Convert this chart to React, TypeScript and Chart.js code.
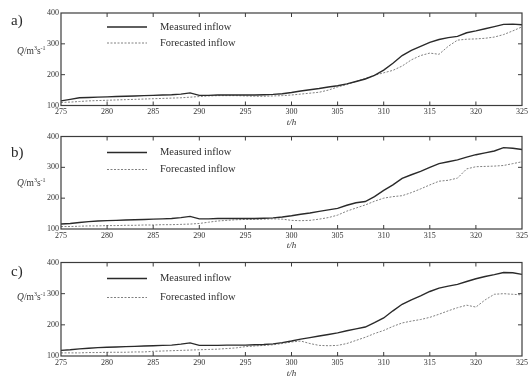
import React, { useEffect, useRef } from "react";
import { Chart, registerables } from "chart.js";

Chart.register(...registerables);

// ---- data ----
const hours = [
  275, 276, 277, 278, 279, 280, 281, 282, 283, 284,
  285, 286, 287, 288, 289, 290, 291, 292, 293, 294,
  295, 296, 297, 298, 299, 300, 301, 302, 303, 304,
  305, 306, 307, 308, 309, 310, 311, 312, 313, 314,
  315, 316, 317, 318, 319, 320, 321, 322, 323, 324,
  325,
];
const xTickValues = [275, 280, 285, 290, 295, 300, 305, 310, 315, 320, 325];
const yTickValues = [100, 200, 300, 400];
const panelLabels = ["a)", "b)", "c)"];
const seriesLabels = ["Measured inflow", "Forecasted inflow"];
const xTitle = "t/h";

const measuredA = [
  115, 120, 125, 126, 127, 128, 129, 130, 131, 132,
  133, 134, 135, 137, 141, 133, 133, 134, 134, 134,
  134, 134, 135, 136, 138, 142, 147, 151, 155, 160,
  164, 170, 178, 186, 198, 215, 237, 262, 279, 292,
  305, 314, 320, 324, 336, 342, 349, 356, 363, 364,
  362,
];
const forecastA = [
  110, 111, 113, 115, 116, 117, 118, 119, 120, 121,
  122, 123, 124, 125, 127, 129, 131, 132, 132, 132,
  131, 130, 130, 131, 132, 134, 137, 140, 143, 150,
  160, 168, 178, 188, 198, 206, 214, 228, 248, 262,
  270, 266, 292, 312, 315, 316, 318, 322, 330, 342,
  355,
];
const measuredB = [
  116, 118, 121, 124, 126, 127, 128, 129, 130, 131,
  132, 133, 134, 137, 141, 133, 133, 134, 134, 134,
  134, 134, 135, 136, 139, 143, 148, 152, 157, 162,
  167, 177, 185, 189, 205, 225, 243, 264, 276, 287,
  300, 312, 318, 324, 333, 341, 347, 353, 364, 362,
  358,
];
const forecastB = [
  108, 108, 109, 110, 110, 111, 111, 112, 112, 113,
  113, 114, 114, 115, 116, 118, 122, 126, 128, 130,
  131, 131, 132, 133, 132, 128, 127, 128, 132, 137,
  145, 158, 168, 178, 190, 200, 205, 208, 218, 230,
  243, 255, 258, 265, 295, 302, 303, 304, 306, 312,
  318,
];
const measuredC = [
  118, 120, 123, 125, 127, 128, 129, 130, 131, 132,
  133, 134, 135, 138, 142, 134, 134, 134, 135, 135,
  135, 136, 137, 139, 143, 148, 154, 159, 164, 169,
  174, 181, 187, 193, 207, 222, 245, 266, 280, 293,
  307, 318, 324, 330, 339, 348, 355, 361, 368, 367,
  362,
];
const forecastC = [
  110, 110, 110, 111, 111, 112, 112, 112, 113, 113,
  115, 116, 117, 118, 119, 120, 121, 122, 124, 126,
  130, 132, 134, 136, 140, 145, 148, 140, 134, 133,
  134, 140, 150, 160, 172, 182, 195, 206, 212, 217,
  224, 234, 245, 255, 263, 257, 280, 298, 300, 298,
  296,
];

const SERIF = '"Liberation Serif", "DejaVu Serif", serif';

type PanelSpec = {
  label: string;
  measured: number[];
  forecast: number[];
  canvasTop: number;
  canvasHeight: number;
  areaTop: number; // chart area top in canvas coords
  areaBottom: number; // chart area bottom in canvas coords
  legendY: number[]; // offsets from chart area top
  labelTop: number;
  qCenter: number;
};

const panels: PanelSpec[] = [
  {
    label: panelLabels[0],
    measured: measuredA,
    forecast: forecastA,
    canvasTop: 0,
    canvasHeight: 128,
    areaTop: 13,
    areaBottom: 105.5,
    legendY: [14, 30],
    labelTop: 13,
    qCenter: 51,
  },
  {
    label: panelLabels[1],
    measured: measuredB,
    forecast: forecastB,
    canvasTop: 124,
    canvasHeight: 127,
    areaTop: 12.5,
    areaBottom: 105,
    legendY: [16, 33],
    labelTop: 145,
    qCenter: 183,
  },
  {
    label: panelLabels[2],
    measured: measuredC,
    forecast: forecastC,
    canvasTop: 249,
    canvasHeight: 130,
    areaTop: 13.5,
    areaBottom: 107,
    legendY: [16, 35],
    labelTop: 264,
    qCenter: 297,
  },
];

function makeFramePlugin(legendY: number[]) {
  return {
    id: "frameLegend",
    afterDatasetsDraw(chart: any) {
      const { ctx, chartArea: a, scales } = chart;
      ctx.save();
      ctx.strokeStyle = "#3c3c3c";
      ctx.lineWidth = 1.2;
      ctx.setLineDash([]);
      ctx.strokeRect(a.left, a.top, a.right - a.left, a.bottom - a.top);
      const tl = 4;
      ctx.lineWidth = 1;
      scales.x.ticks.forEach((t: any) => {
        const px = scales.x.getPixelForValue(t.value);
        if (px <= a.left + 1 || px >= a.right - 1) return;
        ctx.beginPath();
        ctx.moveTo(px, a.bottom);
        ctx.lineTo(px, a.bottom - tl);
        ctx.moveTo(px, a.top);
        ctx.lineTo(px, a.top + tl);
        ctx.stroke();
      });
      scales.y.ticks.forEach((t: any) => {
        const py = scales.y.getPixelForValue(t.value);
        if (py <= a.top + 1 || py >= a.bottom - 1) return;
        ctx.beginPath();
        ctx.moveTo(a.left, py);
        ctx.lineTo(a.left + tl, py);
        ctx.moveTo(a.right, py);
        ctx.lineTo(a.right - tl, py);
        ctx.stroke();
      });
      // legend inside plot
      chart.data.datasets.forEach((ds: any, i: number) => {
        const y = a.top + legendY[i];
        ctx.strokeStyle = ds.borderColor;
        ctx.lineWidth = ds.borderWidth;
        ctx.setLineDash(ds.borderDash || []);
        ctx.beginPath();
        ctx.moveTo(107, y);
        ctx.lineTo(147, y);
        ctx.stroke();
        ctx.setLineDash([]);
        ctx.fillStyle = "#2e2e2e";
        ctx.font = `10.5px ${SERIF}`;
        ctx.textBaseline = "middle";
        ctx.textAlign = "left";
        ctx.fillText(ds.label, 160, y);
      });
      ctx.restore();
    },
  };
}

function Panel({ spec }: { spec: PanelSpec }) {
  const ref = useRef<HTMLCanvasElement | null>(null);
  useEffect(() => {
    if (!ref.current) return;
    const xAxisHeight = spec.canvasHeight - spec.areaBottom;
    const chart = new Chart(ref.current, {
      type: "line",
      data: {
        datasets: [
          {
            label: seriesLabels[0],
            data: hours.map((h, i) => ({ x: h, y: spec.measured[i] })),
            borderColor: "#2a2a2a",
            borderWidth: 1.4,
            pointRadius: 0,
            tension: 0,
            fill: false,
          },
          {
            label: seriesLabels[1],
            data: hours.map((h, i) => ({ x: h, y: spec.forecast[i] })),
            borderColor: "#808080",
            borderWidth: 1,
            borderDash: [2, 1.5],
            pointRadius: 0,
            tension: 0,
            fill: false,
          },
        ],
      },
      options: {
        animation: false,
        responsive: false,
        maintainAspectRatio: false,
        events: [],
        layout: { padding: { top: spec.areaTop, right: 8, left: 0, bottom: 0 } },
        plugins: {
          legend: { display: false },
          tooltip: { enabled: false },
          title: { display: false },
        },
        scales: {
          x: {
            type: "linear",
            min: 275,
            max: 325,
            afterBuildTicks: (s: any) => {
              s.ticks = xTickValues.map((v) => ({ value: v }));
            },
            afterFit: (s: any) => {
              s.height = xAxisHeight;
            },
            grid: { display: false, drawTicks: false },
            border: { display: false },
            ticks: {
              padding: 2,
              color: "#333",
              font: { family: SERIF, size: 8 },
              maxRotation: 0,
              autoSkip: false,
            },
            title: {
              display: true,
              text: xTitle,
              color: "#333",
              font: { family: SERIF, size: 9, style: "italic" },
              padding: { top: 0, bottom: 0 },
            },
          },
          y: {
            type: "linear",
            min: 100,
            max: 400,
            afterBuildTicks: (s: any) => {
              s.ticks = yTickValues.map((v) => ({ value: v }));
            },
            afterFit: (s: any) => {
              s.width = 61;
            },
            grid: { display: false, drawTicks: false },
            border: { display: false },
            ticks: {
              padding: 2,
              color: "#333",
              font: { family: SERIF, size: 8 },
            },
          },
        },
      },
      plugins: [makeFramePlugin(spec.legendY)],
    } as any);
    return () => chart.destroy();
  }, [spec]);

  return (
    <>
      <div
        style={{
          position: "absolute",
          left: 0,
          top: spec.canvasTop,
          width: 530,
          height: spec.canvasHeight,
        }}
      >
        <canvas ref={ref} width={530} height={spec.canvasHeight} style={{ display: "block" }} />
      </div>
      <div
        style={{
          position: "absolute",
          left: 11,
          top: spec.labelTop,
          fontFamily: SERIF,
          fontSize: 15,
          lineHeight: "15px",
          color: "#2a2a2a",
        }}
      >
        {spec.label}
      </div>
      <div
        style={{
          position: "absolute",
          left: 17,
          top: spec.qCenter - 6,
          height: 12,
          fontFamily: SERIF,
          fontSize: 9.5,
          lineHeight: "12px",
          color: "#333",
          whiteSpace: "nowrap",
        }}
      >
        <i>Q</i>/m<sup style={{ fontSize: 6, verticalAlign: "4px", lineHeight: 0 }}>3</sup>s
        <sup style={{ fontSize: 6, verticalAlign: "4px", lineHeight: 0 }}>-1</sup>
      </div>
    </>
  );
}

export default function App() {
  return (
    <div
      style={{
        position: "absolute",
        left: 0,
        top: 0,
        width: 530,
        height: 379,
        background: "#ffffff",
        overflow: "hidden",
      }}
    >
      {panels.map((p) => (
        <Panel key={p.label} spec={p} />
      ))}
    </div>
  );
}
